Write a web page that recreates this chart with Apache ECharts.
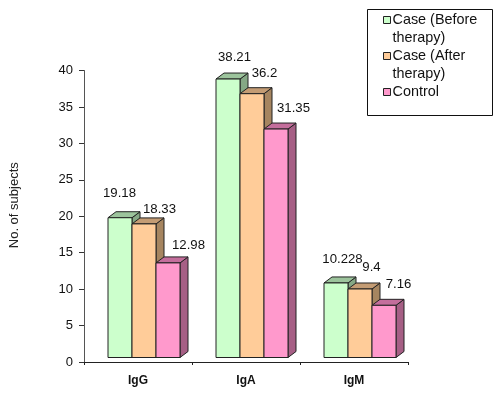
<!DOCTYPE html>
<html>
<head>
<meta charset="utf-8">
<style>html,body{margin:0;padding:0;background:#fff}#c{width:500px;height:394px}</style>
<script src="https://cdn.jsdelivr.net/npm/echarts@6/dist/echarts.min.js"></script>
</head>
<body>
<div id="c"></div>
<script>
const categories = ['IgG', 'IgA', 'IgM'];
const seriesNames = ['Case (Before\ntherapy)', 'Case (After\ntherapy)', 'Control'];
const beforeTherapy = [19.18, 38.21, 10.228];
const afterTherapy = [18.33, 36.2, 9.4];
const control = [12.98, 31.35, 7.16];
const beforeLabels = ['19.18', '38.21', '10.228'];
const afterLabels = ['18.33', '36.2', '9.4'];
const controlLabels = ['12.98', '31.35', '7.16'];

const palettes = [
  { front: '#CCFFCC', side: '#85A885', top: '#9CC49C' },
  { front: '#FFCC99', side: '#A68560', top: '#C49C74' },
  { front: '#FF99CC', side: '#A65F85', top: '#C46E9C' }
];
const labelShift = [
  [[-1, -24.5], [6, -22], [6, -24]],
  [[15, -15], [12, -20], [11, -22]],
  [[20, -18], [17, -21], [14, -21]]
];
const depthX = 8, depthY = 6, floorLift = 4.5, edge = '#222';

function makeSeries(name, values, labels, s) {
  const pal = palettes[s];
  return {
    name: name,
    type: 'custom',
    coordinateSystem: 'cartesian2d',
    clip: false,
    itemStyle: { color: pal.front },
    data: values.map((v, i) => [i, v, labels[i]]),
    encode: { x: 0, y: 1 },
    renderItem: function (params, api) {
      const i = api.value(0), v = api.value(1);
      const band = api.size([1, 0])[0];
      const w = band * 2 / 9;
      const p = api.coord([i, v]);
      const base = api.coord([i, 0]);
      const x0 = base[0] - band / 2 + w + s * w;
      const x1 = x0 + w;
      const yB = base[1] - floorLift;
      const yT = p[1] - floorLift;
      const line = { stroke: edge, lineWidth: 1 };
      const poly = (pts, fill) => ({
        type: 'polygon',
        shape: { points: pts },
        style: Object.assign({ fill: fill }, line)
      });
      const shift = labelShift[s][i];
      return {
        type: 'group',
        children: [
          poly([[x1, yT], [x1 + depthX, yT - depthY], [x1 + depthX, yB - depthY], [x1, yB]], pal.side),
          poly([[x0, yT], [x0 + depthX, yT - depthY], [x1 + depthX, yT - depthY], [x1, yT]], pal.top),
          poly([[x0, yT], [x1, yT], [x1, yB], [x0, yB]], pal.front),
          {
            type: 'text',
            z2: 100,
            style: {
              x: (x0 + x1) / 2 + shift[0] + 0.5,
              y: yT + shift[1],
              text: labels[i],
              fill: '#111',
              font: '13.2px "Liberation Sans", Arial, sans-serif',
              align: 'center',
              verticalAlign: 'middle'
            }
          }
        ]
      };
    }
  };
}

const chart = echarts.init(document.getElementById('c'), null, { renderer: 'canvas' });
chart.setOption({
  animation: false,
  backgroundColor: '#fff',
  textStyle: { fontFamily: '"Liberation Sans", Arial, sans-serif' },
  grid: { left: 84, right: 92, top: 70.5, bottom: 32, containLabel: false, outerBoundsMode: 'none' },
  legend: {
    orient: 'vertical',
    left: 383,
    top: -7,
    padding: 0,
    itemGap: -18,
    itemWidth: 7,
    itemHeight: 7,
    align: 'left',
    selectedMode: false,
    formatter: function (n) {
      return n.indexOf('\n') >= 0 ? ' \n' + n : ' \n' + n + '\n ';
    },
    textStyle: {
      fontSize: 14.4,
      lineHeight: 18,
      color: '#111',
      padding: [0, 0, 0, -3],
      fontFamily: '"Liberation Sans", Arial, sans-serif'
    },
    data: seriesNames.map((n, s) => ({
      name: n,
      icon: 'rect',
      itemStyle: { color: palettes[s].front, borderColor: edge, borderWidth: 1 }
    }))
  },
  graphic: [{
    type: 'rect',
    silent: true,
    shape: { x: 367.5, y: 9.5, width: 125, height: 106 },
    style: { fill: 'none', stroke: '#111', lineWidth: 1 }
  }],
  xAxis: {
    type: 'category',
    data: categories,
    axisTick: { show: true, alignWithLabel: false, length: 3, lineStyle: { color: '#222' } },
    axisLine: { lineStyle: { color: '#222', width: 1 } },
    axisLabel: { color: '#111', fontSize: 12, fontWeight: 'bold', margin: 13 }
  },
  yAxis: {
    type: 'value',
    min: 0,
    max: 40,
    interval: 5,
    name: 'No. of subjects',
    nameLocation: 'middle',
    nameGap: 63,
    nameRotate: 90,
    nameTextStyle: { color: '#222', fontSize: 13, padding: [0, 0, 0, 22] },
    splitLine: { show: false },
    axisLine: { show: true, lineStyle: { color: '#555', width: 1 } },
    axisTick: { show: true, length: 5, lineStyle: { color: '#333' } },
    axisLabel: { color: '#111', fontSize: 13, margin: 11 }
  },
  series: [
    makeSeries(seriesNames[0], beforeTherapy, beforeLabels, 0),
    makeSeries(seriesNames[1], afterTherapy, afterLabels, 1),
    makeSeries(seriesNames[2], control, controlLabels, 2)
  ]
});
</script>
</body>
</html>
